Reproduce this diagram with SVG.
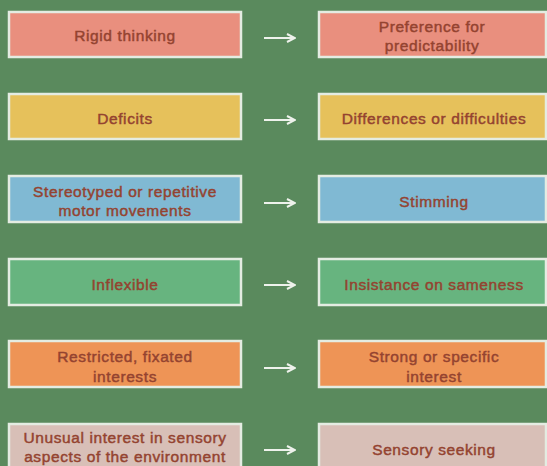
<svg xmlns="http://www.w3.org/2000/svg" width="547" height="466" viewBox="0 0 547 466">
<defs>
<style>
.bg{fill:#5a8a5d}
.box{stroke:#e4ece2;stroke-width:2.5}
.t{font-family:"Liberation Sans",Arial,sans-serif;font-size:15.5px;letter-spacing:0.6px;fill:#944330;text-anchor:middle;stroke:#944330;stroke-width:0.45}
.arr{stroke:#eef2ec;stroke-width:2;fill:none}
.red{fill:#e98f7e}
.yel{fill:#e6c15b}
.blu{fill:#80b9d3}
.grn{fill:#67b47f}
.org{fill:#ee9456}
.gry{fill:#d8bfb7}
</style>
<marker id="ah" viewBox="0 0 10 10" refX="9" refY="5" markerWidth="5" markerHeight="5" orient="auto" markerUnits="strokeWidth">
<path d="M1,1 L9,5 L1,9" fill="none" stroke="#eef2ec" stroke-width="2"/>
</marker>
</defs>
<rect class="bg" x="0" y="0" width="547" height="466"/>
<g id="connectors">
<line class="arr" x1="264" y1="38" x2="295" y2="38" marker-end="url(#ah)"/>
<line class="arr" x1="264" y1="120" x2="295" y2="120" marker-end="url(#ah)"/>
<line class="arr" x1="264" y1="203" x2="295" y2="203" marker-end="url(#ah)"/>
<line class="arr" x1="264" y1="285" x2="295" y2="285" marker-end="url(#ah)"/>
<line class="arr" x1="264" y1="368" x2="295" y2="368" marker-end="url(#ah)"/>
<line class="arr" x1="264" y1="450" x2="295" y2="450" marker-end="url(#ah)"/>
</g>
<g id="l1"><rect class="box red" x="9" y="12" width="232" height="45"/><text class="t" x="125" y="41">Rigid thinking</text></g>
<g id="r1"><rect class="box red" x="319" y="12" width="227" height="45"/><text class="t" x="432" y="32">Preference for</text><text class="t" x="432" y="51">predictability</text></g>
<g id="l2"><rect class="box yel" x="9" y="94" width="232" height="45"/><text class="t" x="125" y="124">Deficits</text></g>
<g id="r2"><rect class="box yel" x="319" y="94" width="227" height="45"/><text class="t" x="434" y="124">Differences or difficulties</text></g>
<g id="l3"><rect class="box blu" x="9" y="176" width="232" height="46"/><text class="t" x="125" y="197">Stereotyped or repetitive</text><text class="t" x="125" y="216">motor movements</text></g>
<g id="r3"><rect class="box blu" x="319" y="176" width="227" height="46"/><text class="t" x="434" y="207">Stimming</text></g>
<g id="l4"><rect class="box grn" x="9" y="259" width="232" height="46"/><text class="t" x="125" y="290">Inflexible</text></g>
<g id="r4"><rect class="box grn" x="319" y="259" width="227" height="46"/><text class="t" x="434" y="290">Insistance on sameness</text></g>
<g id="l5"><rect class="box org" x="9" y="341" width="232" height="46"/><text class="t" x="125" y="362">Restricted, fixated</text><text class="t" x="125" y="382">interests</text></g>
<g id="r5"><rect class="box org" x="319" y="341" width="227" height="46"/><text class="t" x="434" y="362">Strong or specific</text><text class="t" x="434" y="382">interest</text></g>
<g id="l6"><rect class="box gry" x="9" y="424" width="232" height="50"/><text class="t" x="125" y="443">Unusual interest in sensory</text><text class="t" x="125" y="462">aspects of the environment</text></g>
<g id="r6"><rect class="box gry" x="319" y="424" width="227" height="50"/><text class="t" x="434" y="455">Sensory seeking</text></g>
</svg>
